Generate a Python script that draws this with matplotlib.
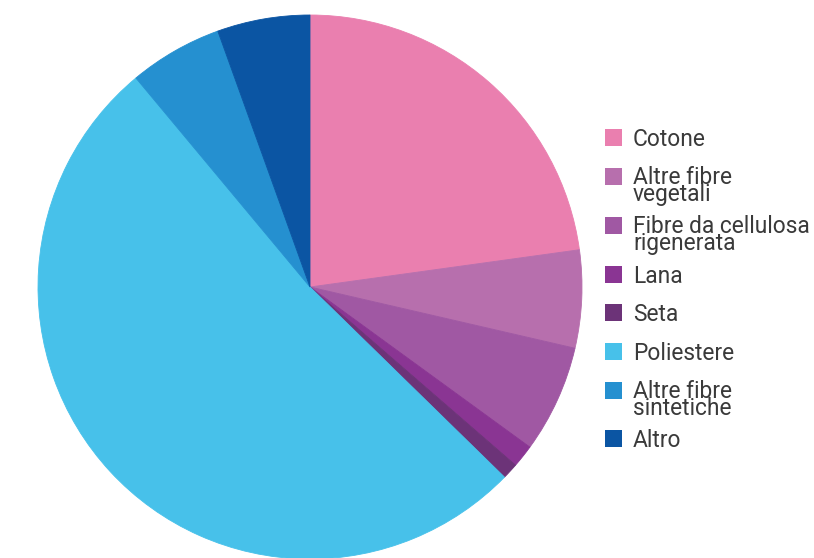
import matplotlib
matplotlib.use("Agg")
import matplotlib.pyplot as plt
from matplotlib.patches import Rectangle

categories = ["Cotone", "Altre fibre\nvegetali", "Fibre da cellulosa\nrigenerata", "Lana",
              "Seta", "Poliestere", "Altre fibre\nsintetiche", "Altro"]
values = [22.8, 5.8, 6.4, 1.35, 0.95, 51.6, 5.55, 5.5]
colors = ["#EA7FAF", "#B76FAD", "#A058A3", "#8A3593", "#6C3378", "#47C1EA", "#2590D0", "#0B55A3"]

W, H = 814, 558
fig = plt.figure(figsize=(W / 100, H / 100), dpi=100)
ax = fig.add_axes([0, 0, 1, 1])
ax.set_xlim(0, W)
ax.set_ylim(0, H)
ax.set_aspect("equal")
ax.axis("off")

wedges, _ = ax.pie(values, colors=colors, startangle=90, counterclock=False,
                   center=(310, H - 287), radius=272,
                   wedgeprops=dict(linewidth=0.6))
for w, c in zip(wedges, colors):
    w.set_edgecolor(c)
ax.set_xlim(0, W)
ax.set_ylim(0, H)

# legend (manual layout)
sq_top = [129, 168, 217, 266, 304, 343, 382, 430]
sq = 17
step = 16
for cat, col, top in zip(categories, colors, sq_top):
    ax.add_patch(Rectangle((605, H - top - sq), sq, sq, facecolor=col, edgecolor="none"))
    nl = cat.count("\n")
    ax.text(633, H - (top + sq) - nl * step, cat, fontsize=16.4, family=["Roboto", "DejaVu Sans"],
            color="#3a3a3a", va="baseline", ha="left", linespacing=0.68)

fig.savefig("out.png", dpi=100)
